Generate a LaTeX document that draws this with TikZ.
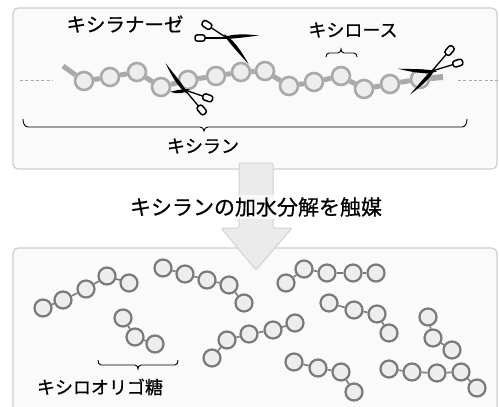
\documentclass[tikz,border=0pt]{standalone}
\usepackage{fontspec}
\newfontfamily\jpfont[FakeBold=0.6]{Noto Sans CJK JP}

\definecolor{panelfill}{HTML}{FAFAFA}
\definecolor{panelline}{HTML}{CFCFCF}
\definecolor{xylanline}{HTML}{A9A9A9}
\definecolor{beadfill}{HTML}{EDEDED}
\definecolor{oligoline}{HTML}{7A7A7A}
\definecolor{arrowfill}{HTML}{EBEBEB}
\definecolor{arrowline}{HTML}{D2D2D2}

% one blade of a pair of scissors: pivot x, pivot y, angle (clockwise), length
\newcommand\scblade[4]{%
  \begin{scope}[shift={(#1,#2)},rotate=-#3]
    \fill[black] (-5,0) .. controls (2,-3.6) and ({0.45*#4},-3.4) .. (#4,0.3)
      .. controls ({0.5*#4},0.8) and (4,1.8) .. (-5,0) -- cycle;
  \end{scope}}
% one finger loop of a pair of scissors: pivot x, pivot y, angle, distance
\newcommand\schandle[4]{%
  \begin{scope}[shift={(#1,#2)},rotate=-#3]
    \draw[line width=1.3] (0,0) -- ({#4-5},0);
    \draw[line width=1.5,fill=white,rounded corners=2.5] ({#4-5},-3.2) rectangle ({#4+5},3.2);
  \end{scope}}

\tikzset{
  panel/.style={draw=panelline, line width=1.2, fill=panelfill, rounded corners=5},
  xbead/.style={circle, draw=xylanline, line width=2.6, fill=beadfill, minimum size=18, inner sep=0},
  xlink/.style={draw=xylanline, line width=5},
  obead/.style={circle, draw=oligoline, line width=2.2, fill=beadfill, minimum size=17, inner sep=0},
  olink/.style={draw=oligoline, line width=1.6},
  jptext/.style={font=\jpfont\fontsize{18}{20}\selectfont, inner sep=0},
  brace/.style={draw=black, line width=0.9},
  trail/.style={draw=xylanline, line width=0.8, dash pattern=on 3pt off 2.3pt},
  bigarrow/.style={draw=arrowline, line width=1, fill=arrowfill, rounded corners=2},
}

\begin{document}
\begin{tikzpicture}[x=1pt,y=-1pt]
\clip (0,0) rectangle (499,407);
\fill[white] (0,0) rectangle (499,407);

% panels
\draw[panel] (13,8) rectangle (497,169);
\draw[panel] (13,248) rectangle (497,420);

% xylan chain
\draw[trail] (20,80) -- (52,80);
\draw[trail] (458,80) -- (498,80);
\foreach \n/\x/\y in {1/84/81,2/110/77,3/137/72,4/161/87,5/188/80,6/216/76,7/241/72,
                      8/265/71,9/289/86,10/314/82,11/341/76,12/364/89,13/390/84,14/420/79}
  \node[xbead] (t\n) at (\x,\y) {};
\coordinate (tstart) at (63,66);
\coordinate (tend) at (443,77);
\draw[xlink] (tstart) -- (t1);
\draw[xlink,line width=6] (t14) -- (tend);
\foreach \a/\b in {1/2,2/3,3/4,4/5,5/6,6/7,7/8,8/9,9/10,10/11,11/12,12/13,13/14}
  \draw[xlink] (t\a) -- (t\b);

% scissors
\scblade{227}{38}{-5}{32}
\scblade{227}{38}{50}{34}
\schandle{227}{38}{213}{24}
\schandle{227}{38}{180}{27}

\scblade{185}{90}{233.5}{33}
\scblade{185}{90}{172}{15}
\schandle{185}{90}{19}{24}
\schandle{185}{90}{50}{26}

\scblade{432}{71}{183.4}{34}
\scblade{432}{71}{132.5}{32}
\schandle{432}{71}{-49.4}{27}
\schandle{432}{71}{-17}{27}

% labels and braces of the upper panel
\node[jptext,font=\jpfont\fontsize{19.5}{21}\selectfont] (xylanase) at (125,24) {キシラナーゼ};
\node[jptext] (xylose) at (353,30) {キシロース};
\node[jptext] (xylan) at (203,146) {キシラン};
\draw[brace] (326,57) to[out=90,in=180] (329,53) -- (338,53) to[out=0,in=-90] (341,49)
  to[out=-90,in=180] (344,53) -- (354,53) to[out=0,in=90] (357,57);
\draw[brace] (23,119) to[out=-90,in=180] (28,127) -- (200,127) to[out=0,in=90] (204,131)
  to[out=90,in=180] (208,127) -- (462,127) to[out=0,in=-90] (467,119);

% oligosaccharides
\foreach \c/\pts in {a/{43/308,63/300,86/289,107/276,129/283},
                     b/{163/268,185/274,207/280,229/285,244/303},
                     c/{123/318,135/337,155/344},
                     d/{212/358,227/340,249/334,273/330,295/323},
                     e/{286/283,304/269,327/273,353/273,376/273},
                     f/{329/303,354/310,377/314,389/333},
                     g/{428/317,433/338,452/350},
                     h/{294/362,318/368,341/372,354/392},
                     i/{389/369,412/372,437/373,461/372,477/388}}{
  \foreach \x/\y [count=\k] in \pts
    \node[obead] (\c\k) at (\x,\y) {};
}
\foreach \a/\b in {a1/a2,a2/a3,a3/a4,a4/a5,b1/b2,b2/b3,b3/b4,b4/b5,c1/c2,c2/c3,
                   d1/d2,d2/d3,d3/d4,d4/d5,e1/e2,e2/e3,e3/e4,e4/e5,f1/f2,f2/f3,f3/f4,
                   g1/g2,g2/g3,h1/h2,h2/h3,h3/h4,i1/i2,i2/i3,i3/i4,i4/i5}
  \draw[olink] (\a) -- (\b);

\node[jptext] (xoligo) at (100,387) {キシロオリゴ糖};
\draw[brace] (98,360) to[out=-90,in=180] (101,365) -- (135,365) to[out=0,in=90] (138,369)
  to[out=90,in=180] (141,365) -- (175,365) to[out=0,in=-90] (178,360);

% reaction arrow
\draw[bigarrow] (256,270) -- (221,228) -- (239,228) -- (239,163) -- (273,163)
  -- (273,228) -- (292,228) -- cycle;
\node[jptext,font=\jpfont\fontsize{21}{23}\selectfont,fill=white,fill opacity=0.75,
      text opacity=1,inner sep=2] (caption) at (256,207) {キシランの加水分解を触媒};
\end{tikzpicture}
\end{document}
